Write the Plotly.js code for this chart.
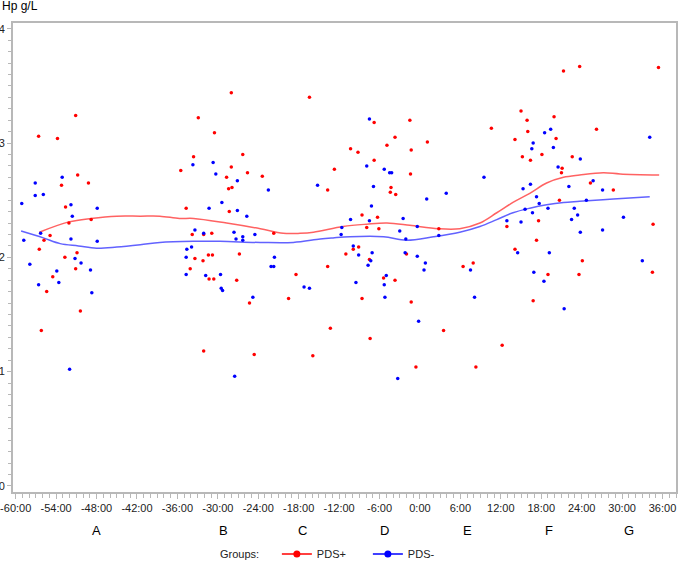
<!DOCTYPE html>
<html>
<head>
<meta charset="utf-8">
<script src="https://cdn.plot.ly/plotly-3.0.1.min.js"></script>
<style>
  html, body { margin: 0; padding: 0; background: #fff; }
  #chart { width: 685px; height: 561px; }
</style>
</head>
<body>
<div id="chart"></div>
<script>
// hours relative to event, Hp in g/L
const red_hours = [
  -51.1, -56.6, -53.8, -50.8, -53.2, -49.2, -52.6, -52.1, -48.8, -54.9, -55.8, -56.5, -50.9, -52.7, -51.1, -54.5, -55.4, -50.4, -56.2,
  -35.5, -28.0, -16.4, -32.9, -30.5, -33.6, -26.3, -28.0, -25.6, -28.7, -23.4, -28.4, -27.9, -34.7, -28.3, -33.8, -32.1, -30.9, -21.7,
  -31.4, -30.8, -26.8, -33.4, -32.2, -34.1, -31.3, -30.6, -27.2, -18.4, -19.5, -25.3, -32.1, -24.6, -15.9,
  -6.8, -1.5, -3.7, -10.3, -9.2, -4.9, -1.3, 1.1, -6.8, -12.7, -1.4, -13.7, -4.3, -4.4, -3.6, -8.6, -6.3, -7.9, -6.1, 2.8,
  -9.1, -9.9, -11.0, -2.0, -13.7, -7.5, -5.4, -3.7, 6.4, 7.9, -8.6, -1.3, -13.3, -7.4, 3.5, -0.6, 8.3,
  21.3, 23.7, 35.4, 15.0, 15.9, 19.9, 10.6, 16.0, 26.2, 14.1, 20.2, 15.2, 16.4, 18.1, 22.6, 21.1, 21.0, 25.3, 28.7, 20.7,
  17.6, 12.9, 34.6, 17.3, 14.1, 24.1, 19.0, 23.6, 34.5, 16.8, 12.2
];
const red_hp = [
  3.24, 3.06, 3.04, 2.72, 2.63, 2.65, 2.44, 2.30, 2.33, 2.19, 2.15, 2.07, 2.04, 2.00, 1.90, 1.83, 1.70, 1.53, 1.36,
  2.76, 3.44, 3.40, 3.22, 3.09, 2.88, 2.90, 2.79, 2.74, 2.70, 2.71, 2.60, 2.61, 2.43, 2.40, 2.20, 2.20, 2.21, 2.21,
  2.02, 2.02, 2.03, 1.99, 1.97, 1.90, 1.81, 1.81, 1.80, 1.85, 1.64, 1.60, 1.18, 1.15, 1.14,
  3.18, 3.20, 3.05, 2.95, 2.92, 2.98, 2.94, 3.01, 2.85, 2.77, 2.73, 2.59, 2.61, 2.57, 2.55, 2.37, 2.35, 2.26, 2.25, 2.25,
  2.09, 2.07, 2.03, 2.03, 1.92, 1.98, 1.82, 1.80, 1.92, 1.95, 1.64, 1.61, 1.38, 1.29, 1.36, 1.04, 1.04,
  3.63, 3.67, 3.66, 3.28, 3.20, 3.23, 3.13, 3.10, 3.12, 3.03, 3.04, 2.88, 2.85, 2.90, 2.88, 2.78, 2.74, 2.65, 2.59, 2.50,
  2.32, 2.27, 2.29, 2.15, 2.07, 1.97, 1.85, 1.85, 1.87, 1.62, 1.23
];

const blue_hours = [
  -57.1, -53.1, -57.1, -55.9, -59.1, -51.8, -47.9, -51.6, -56.3, -58.8, -51.8, -47.9, -51.2, -50.3, -57.9, -53.9, -48.9, -53.6, -56.6, -48.7, -52.0,
  -33.7, -30.7, -30.3, -27.1, -22.5, -15.2, -29.4, -31.3, -27.1, -25.7, -33.4, -32.1, -27.6, -24.5, -27.3, -26.3, -26.3,
  -34.6, -33.9, -34.7, -34.7, -31.8, -29.6, -29.5, -29.3, -21.6, -22.1, -21.7, -24.8, -17.2, -16.4, -27.5,
  -7.5, -7.9, -5.3, -4.5, -4.2, -6.9, 1.0, 3.9, -7.2, -10.3, -7.5, -2.5, -11.6, -0.4, -3.0, -11.7, -2.1, 2.8,
  -9.9, -9.1, -7.1, -2.2, -0.4, -7.3, -7.7, 0.8, 0.6, 7.5, -5.0, -9.5, -5.3, -5.2, 8.1, -0.2, -3.3,
  9.5, 18.5, 19.4, 34.1, 16.8, 16.6, 19.8, 23.8, 20.5, 25.7, 15.3, 16.4, 22.1, 27.1, 17.3, 24.7, 17.7, 15.6, 19.0, 22.9,
  16.7, 23.4, 12.9, 15.0, 22.5, 30.2, 23.8, 27.1, 14.5, 19.2, 33.0, 16.9, 18.4, 21.4
];
const blue_hp = [
  2.65, 2.70, 2.54, 2.55, 2.47, 2.46, 2.43, 2.36, 2.21, 2.15, 2.16, 2.14, 1.99, 1.95, 1.94, 1.88, 1.89, 1.78, 1.76, 1.69, 1.02,
  2.81, 2.83, 2.73, 2.67, 2.59, 2.63, 2.48, 2.43, 2.41, 2.36, 2.24, 2.21, 2.22, 2.20, 2.16, 2.18, 2.15,
  2.07, 2.09, 2.00, 1.85, 1.84, 1.85, 1.73, 1.71, 2.00, 1.92, 1.92, 1.65, 1.74, 1.73, 0.96,
  3.21, 2.80, 2.77, 2.74, 2.74, 2.62, 2.51, 2.56, 2.45, 2.33, 2.32, 2.34, 2.26, 2.27, 2.23, 2.20, 2.16, 2.19,
  2.10, 2.02, 2.04, 2.04, 2.01, 1.97, 1.93, 1.95, 1.89, 1.89, 1.84, 1.78, 1.76, 1.65, 1.65, 1.44, 0.94,
  2.70, 3.09, 3.12, 3.05, 3.00, 2.95, 2.96, 2.86, 2.79, 2.67, 2.60, 2.64, 2.62, 2.59, 2.53, 2.50, 2.47, 2.42, 2.43, 2.43,
  2.39, 2.37, 2.32, 2.31, 2.33, 2.35, 2.22, 2.24, 2.04, 2.04, 1.97, 1.87, 1.79, 1.55
];

// smoothed curves
const red_fit_hours = [-56.5, -52.1, -48.8, -45.0, -41.5, -38.6, -35.7, -33.6, -28.7, -23.7, -20.3, -17.8, -15.8, -11.4, -7.9, -4.9, -1.5, 2.7, 5.9, 8.9, 11.4, 13.8, 16.3, 18.8, 21.3, 23.7, 27.2, 29.7, 35.5];
const red_fit_hp    = [2.22, 2.31, 2.34, 2.36, 2.36, 2.36, 2.34, 2.34, 2.30, 2.25, 2.21, 2.21, 2.22, 2.27, 2.29, 2.30, 2.28, 2.25, 2.25, 2.30, 2.39, 2.48, 2.56, 2.65, 2.70, 2.72, 2.74, 2.73, 2.72];
const blue_fit_hours = [-59.2, -55.9, -53.4, -50.7, -48.0, -45.0, -41.5, -38.6, -33.6, -29.7, -23.7, -18.8, -14.8, -12.9, -10.4, -5.4, -2.0, 2.0, 5.9, 8.9, 11.4, 13.8, 16.3, 18.8, 21.3, 23.7, 28.7, 34.1];
const blue_fit_hp    = [2.23, 2.17, 2.12, 2.10, 2.08, 2.09, 2.11, 2.13, 2.14, 2.14, 2.13, 2.13, 2.16, 2.17, 2.18, 2.18, 2.15, 2.18, 2.22, 2.27, 2.33, 2.39, 2.43, 2.46, 2.48, 2.49, 2.51, 2.53];

const hour_ticks = [-60, -54, -48, -42, -36, -30, -24, -18, -12, -6, 0, 6, 12, 18, 24, 30, 36];
const hour_tick_text = hour_ticks.map(h => h + ":00");
const hp_ticks = [0, 1, 2, 3, 4];

const group_labels = ["A", "B", "C", "D", "E", "F", "G"];
const group_hours = [-48, -29.2, -17.4, -5.2, 7.0, 19.1, 31.0];

const red = "#ff0000";
const blue = "#0000ff";
const axis_grey = "#b8b8b8";
const font_family = "Liberation Sans, Arial, sans-serif";

let data = [
  {
    x: red_fit_hours, y: red_fit_hp, type: "scatter", mode: "lines",
    line: { color: "rgba(255,70,70,0.85)", width: 1.5, shape: "spline" },
    showlegend: false, hoverinfo: "skip"
  },
  {
    x: blue_fit_hours, y: blue_fit_hp, type: "scatter", mode: "lines",
    line: { color: "rgba(70,70,255,0.85)", width: 1.5, shape: "spline" },
    showlegend: false, hoverinfo: "skip"
  },
  {
    x: red_hours, y: red_hp, type: "scatter", mode: "markers",
    marker: { color: red, size: 3.5, symbol: "circle" },
    showlegend: false
  },
  {
    x: blue_hours, y: blue_hp, type: "scatter", mode: "markers",
    marker: { color: blue, size: 3.5, symbol: "circle" },
    showlegend: false
  },
  // legend entries only
  {
    name: "PDS+", x: [null], y: [null], type: "scatter", mode: "lines+markers",
    line: { color: red, width: 1.5 }, marker: { color: red, size: 7 }
  },
  {
    name: "PDS-", x: [null], y: [null], type: "scatter", mode: "lines+markers",
    line: { color: blue, width: 1.5 }, marker: { color: blue, size: 7 }
  }
];

let annotations = group_labels.map((label, i) => ({
  text: label, x: group_hours[i], xref: "x", y: -0.083, yref: "paper",
  xanchor: "center", yanchor: "middle", showarrow: false,
  font: { family: font_family, size: 13, color: "#000" }
}));
annotations.push({
  text: "Hp g/L", x: -0.0196, xref: "paper", y: 1.036, yref: "paper",
  xanchor: "left", yanchor: "middle", showarrow: false,
  font: { family: font_family, size: 12, color: "#000" }
});
annotations.push({
  text: "Groups:", x: 0.309, xref: "paper", y: -0.132, yref: "paper",
  xanchor: "left", yanchor: "middle", showarrow: false,
  font: { family: font_family, size: 11, color: "#222" }
});

let layout = {
  width: 685,
  height: 561,
  margin: { l: 13, r: 9, t: 23, b: 69, pad: 0, autoexpand: false },
  paper_bgcolor: "#fff",
  plot_bgcolor: "#fff",
  font: { family: font_family, size: 11, color: "#222" },
  xaxis: {
    range: [-60.4, 38],
    tickvals: hour_ticks,
    ticktext: hour_tick_text,
    ticks: "outside", ticklen: 5, tickwidth: 1, tickcolor: axis_grey,
    minor: { dtick: 1, ticks: "outside", ticklen: 4, tickcolor: axis_grey, showgrid: false },
    showline: true, linecolor: axis_grey, linewidth: 2, mirror: true,
    showgrid: false, zeroline: false,
    tickfont: { size: 11, color: "#222" }
  },
  yaxis: {
    range: [-0.053, 4.05],
    tickvals: hp_ticks,
    ticks: "outside", ticklen: 4, tickwidth: 1, tickcolor: axis_grey,
    minor: { dtick: 0.1, ticks: "outside", ticklen: 3, tickcolor: axis_grey, showgrid: false },
    showline: true, linecolor: axis_grey, linewidth: 2, mirror: true,
    showgrid: false, zeroline: false,
    tickfont: { size: 11, color: "#222" }
  },
  showlegend: true,
  legend: {
    orientation: "h",
    x: 0.398, xanchor: "left",
    y: -0.132, yanchor: "middle",
    entrywidth: 46, entrywidthmode: "pixels",
    font: { family: font_family, size: 11, color: "#222" },
    bgcolor: "rgba(0,0,0,0)",
    borderwidth: 0
  },
  annotations: annotations
};

Plotly.newPlot("chart", data, layout, { staticPlot: true });
</script>
</body>
</html>
